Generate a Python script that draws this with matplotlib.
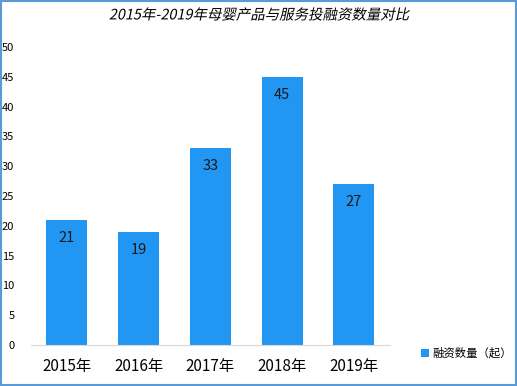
import matplotlib.pyplot as plt
from matplotlib.patches import Rectangle
from matplotlib.patheffects import AbstractPathEffect
from matplotlib.transforms import Affine2D

plt.rcParams['font.family'] = ['Noto Sans CJK SC', 'DejaVu Sans']

DPI = 100
WIDTH = 517
HEIGHT = 386

years = ["2015年", "2016年", "2017年", "2018年", "2019年"]
counts = [21, 19, 33, 45, 27]
title = "2015年-2019年母婴产品与服务投融资数量对比"
legend_label = "融资数量（起）"
bar_color = "#2196F3"


# CJK font has no italic face, so slant the glyphs ourselves
class Slant(AbstractPathEffect):
    def __init__(self, deg=12):
        super().__init__()
        self.deg = deg

    def draw_path(self, renderer, gc, tpath, affine, rgbFace=None):
        renderer.draw_path(gc, tpath, Affine2D().skew_deg(self.deg, 0) + affine, rgbFace)


fig = plt.figure(figsize=(WIDTH / DPI, HEIGHT / DPI), dpi=DPI)
ax = fig.add_axes([0.06, 0.106, 0.694, 0.772])

x = range(len(years))
bars = ax.bar(x, counts, width=0.57, color=bar_color, label=legend_label)

for b, v in zip(bars, counts):
    ax.text(b.get_x() + b.get_width() / 2, v - 3, str(v),
            ha="center", va="center", fontsize=10.5, color="#1a1a1a")

ax.set_xlim(-0.5, len(years) - 0.5)
ax.set_ylim(0, 50)
ax.set_yticks(range(0, 51, 5))
ax.set_xticks(list(x))
ax.set_xticklabels(years, fontsize=11)
ax.tick_params(axis="y", labelsize=8, length=0, pad=12)
ax.tick_params(axis="x", length=0, pad=9)
for s in ["top", "right", "left"]:
    ax.spines[s].set_visible(False)
ax.spines["bottom"].set_color("#d9d9d9")

fig.text(0.5, 0.96, title, ha="center", va="center", fontsize=10.4,
         path_effects=[Slant(12)])

fig.legend(handles=[bars], labels=[legend_label], loc="center left",
           bbox_to_anchor=(0.795, 0.085), frameon=False, fontsize=8.2,
           handlelength=0.7, handleheight=0.7, handletextpad=0.3)

fig.patches.append(Rectangle((0.002, 0.002), 0.996, 0.995, transform=fig.transFigure,
                             fill=False, edgecolor="#5b9bd5", linewidth=1.5))

plt.savefig("out.png", dpi=DPI)
plt.close()
